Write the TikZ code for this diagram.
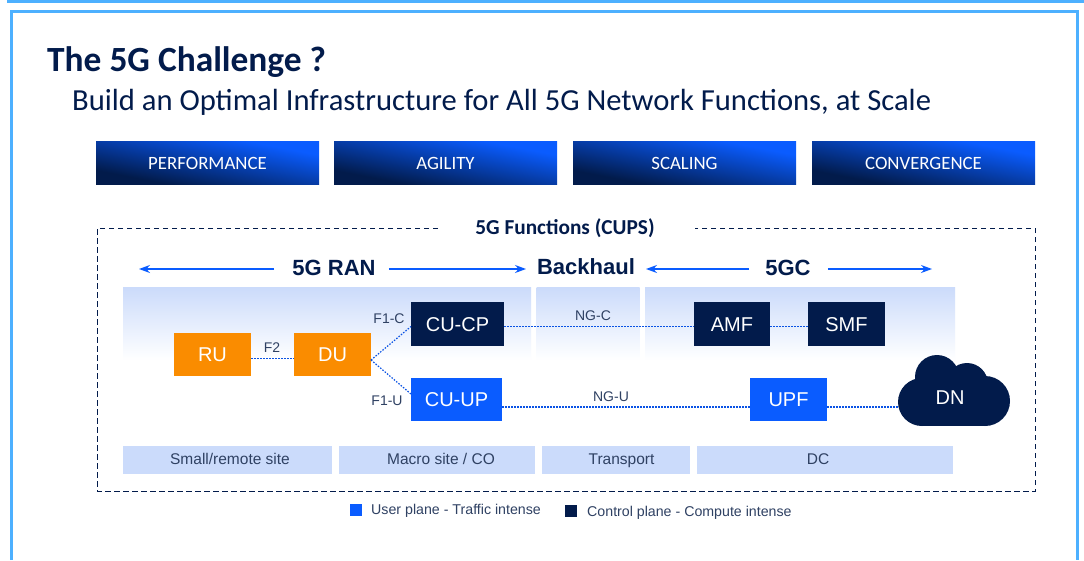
\documentclass[tikz,border=0pt]{standalone}
\usepackage{fontspec}
\setmainfont{Carlito}
\newfontfamily\rb{Liberation Sans}
\usetikzlibrary{arrows.meta}
\definecolor{navy}{HTML}{021B4B}
\definecolor{blu}{HTML}{0A5CFF}
\definecolor{org}{HTML}{FA8C00}
\definecolor{frm}{HTML}{4DB0FF}
\definecolor{pale}{HTML}{CBDBFB}
\definecolor{lbl}{HTML}{2F4163}
\pgfdeclareverticalshading{bannergrad}{100bp}{color(0bp)=(navy); color(30bp)=(navy); color(70bp)=(blu); color(100bp)=(blu)}
\tikzset{
  x=1pt,y=-1pt,
  px/.style 2 args={minimum width=#1pt,minimum height=#2pt,inner sep=0pt,outer sep=0pt},
  banner/.style={px={223}{43},shading=bannergrad,shading angle=-11,text=white,text height=13pt,text depth=0pt,font=\fontsize{18.8}{20}\selectfont},
  boxtext/.style={text=white,text height=14.3pt,text depth=0pt,font=\rb\fontsize{20}{22}\selectfont},
  orangebox/.style={px={77}{43},fill=org,boxtext},
  navybox/.style={px={#1}{44},fill=navy,boxtext},
  bluebox/.style={px={#1}{43},fill=blu,boxtext},
  fade/.style={px={#1}{73},top color=pale,bottom color=white},
  site/.style={px={#1}{28},fill=pale,text=lbl,text height=11pt,text depth=3pt,font=\rb\fontsize{15.5}{17}\selectfont},
  link/.style={blu!85!navy,line width=1.2pt,dash pattern=on 1.5pt off 1.5pt},
  small/.style={text=lbl,text height=10pt,text depth=0pt,font=\rb\fontsize{14}{16}\selectfont,inner sep=0pt},
  legendtext/.style={anchor=west,text=lbl,inner sep=0pt,text height=10pt,text depth=3pt,font=\rb\fontsize{14.2}{16}\selectfont},
  head/.style={text=navy,font=\rb\bfseries\fontsize{22}{24}\selectfont,inner sep=0pt},
  span/.style={blu,line width=1.2pt,-{Stealth[length=11pt,width=8pt]}},
  edge frame/.style={frm,line width=3pt},
  outline/.style={navy,line width=.9pt,dash pattern=on 5.5pt off 3.5pt},
}
\begin{document}
\begin{tikzpicture}
\useasboundingbox (0,0) rectangle (1084,560);
\fill[white] (0,0) rectangle (1084,560);
% frames
\draw[edge frame] (7,1) -- (1084,1);
\draw[edge frame] (11.5,560) -- (11.5,11.5) -- (1077.5,11.5) -- (1077.5,560);
% titles
\node[anchor=base west,inner sep=0pt,text=navy,font=\bfseries\fontsize{35.4}{38}\selectfont] (title) at (47,71) {The 5G Challenge ?};
\node[anchor=base west,inner sep=0pt,text=navy,font=\fontsize{30.6}{34}\selectfont] (subtitle) at (72,110) {Build an Optimal Infrastructure for All 5G Network Functions, at Scale};
% banners
\node[banner] (perf) at (207.5,162.5) {PERFORMANCE};
\node[banner] (agil) at (445.5,162.5) {AGILITY};
\node[banner] (scal) at (684.5,162.5) {SCALING};
\node[banner] (conv) at (923.5,162.5) {CONVERGENCE};
% dashed box
\draw[outline] (438,228) -- (97,228) -- (97,491) -- (1035,491) -- (1035,228) -- (695,228);
\node[text=navy,font=\bfseries\fontsize{21.3}{24}\selectfont,inner sep=0pt] (cups) at (565,228) {5G Functions (CUPS)};
% fades
\node[fade=408] (f1) at (327,323.5) {};
\node[fade=103] (f2) at (588,323.5) {};
\node[fade=310] (f3) at (800,323.5) {};
% sites
\node[site=209] (s1) at (227.5,460) {\hspace*{5pt}Small/remote site};
\node[site=196] (s2) at (437,460) {\hspace*{8pt}Macro site / CO};
\node[site=148] (s3) at (616,460) {\hspace*{11pt}Transport};
\node[site=256] (s4) at (825,460) {DC\hspace*{14pt}};
% headings and spans
\node[head] (ran) at (334,268) {5G RAN};
\node[head] (bh) at (586,267) {Backhaul};
\node[head] (gc) at (788,268) {5GC};
\coordinate (a1) at (139,269);
\coordinate (a2) at (526,269);
\coordinate (a3) at (646,269);
\coordinate (a4) at (932,269);
\draw[span] ([xshift=-18pt]ran.west |- a1) -- (a1);
\draw[span] ([xshift=13pt]ran.east |- a2) -- (a2);
\draw[span] ([xshift=-16pt]gc.west |- a3) -- (a3);
\draw[span] ([xshift=17pt]gc.east |- a4) -- (a4);
% cloud
\fill[navy] (937,377) circle (22) (967,384) circle (21) (922,402) circle (24) (985,401) circle (25);
\fill[navy] (922,385) rectangle (985,426);
\node[px={112}{30},boxtext] (dn) at (954,397) {};
\node[boxtext,inner sep=0pt] (dnt) at (950,397) {DN};
% boxes
\node[orangebox] (ru) at (212.5,354.5) {RU};
\node[orangebox] (du) at (332.5,354.5) {DU};
\node[navybox=93] (cucp) at (457.5,324) {CU-CP};
\node[bluebox=91] (cuup) at (456.5,399) {CU-UP};
\node[navybox=76] (amf) at (732,324) {AMF};
\node[navybox=77] (smf) at (846.5,324) {SMF};
\node[bluebox=77] (upf) at (788.5,399) {UPF};
% links
\draw[link] ([yshift=-4pt]ru.east) -- ([yshift=-4pt]du.west);
\draw[link] ([yshift=-5.5pt]du.east) -- ([yshift=-2.5pt]cucp.west);
\draw[link] ([yshift=-5.5pt]du.east) -- ([yshift=5pt]cuup.west) ;
\draw[link] ([yshift=-2.5pt]cucp.east) -- ([yshift=-2.5pt]amf.west);
\draw[link] ([yshift=-2.5pt]amf.east) -- ([yshift=-2.5pt]smf.west);
\draw[link] ([yshift=-8pt]cuup.east) -- ([yshift=-8pt]upf.west);
\draw[link] ([yshift=-8pt]upf.east) -- ([yshift=-10pt]dn.west);
% link labels
\node[small] (lf2) at (272,347) {F2};
\node[small] (lf1c) at (389,318) {F1-C};
\node[small] (lf1u) at (387,400) {F1-U};
\node[small] (lngc) at (593,315) {NG-C};
\node[small] (lngu) at (611,396) {NG-U};
% legend
\node[px={12}{12},fill=blu] (kb) at (355.5,510) {};
\node[legendtext] (tb) at (371,511) {User plane - Traffic intense};
\node[px={12}{12},fill=navy] (kn) at (571,511) {};
\node[legendtext] (tn) at (587,513) {Control plane - Compute intense};
\end{tikzpicture}
\end{document}
